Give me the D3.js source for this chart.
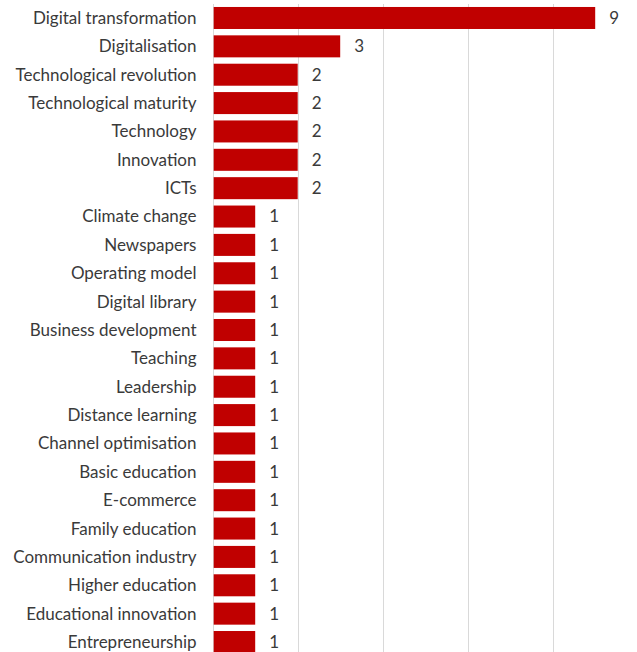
<!DOCTYPE html>
<html>
<head>
<meta charset="utf-8">
<script src="https://cdn.jsdelivr.net/npm/d3@7"></script>
<style>
  html, body { margin: 0; padding: 0; background: #fff; }
  svg { display: block; }
</style>
</head>
<body>
<svg id="chart" width="637" height="652"></svg>
<script>
// Keyword frequencies
const categories = [
  "Digital transformation", "Digitalisation", "Technological revolution",
  "Technological maturity", "Technology", "Innovation", "ICTs",
  "Climate change", "Newspapers", "Operating model", "Digital library",
  "Business development", "Teaching", "Leadership", "Distance learning",
  "Channel optimisation", "Basic education", "E-commerce", "Family education",
  "Communication industry", "Higher education", "Educational innovation",
  "Entrepreneurship"
];
const counts = [9, 3, 2, 2, 2, 2, 2, 1, 1, 1, 1, 1, 1, 1, 1, 1, 1, 1, 1, 1, 1, 1, 1];
const gridTicks = [0, 2, 4, 6, 8, 10];

const svg = d3.select("#chart");
const font = "Lato, 'Open Sans', sans-serif";
const textColor = "#3a3a3a";

const x = d3.scaleLinear().domain([0, 10]).range([212.7, 637.7]);
const y = d3.scaleBand().domain(categories).range([3.8, 656.2]).paddingInner(0.224).paddingOuter(0.112);

// vertical gridlines
svg.append("g")
  .selectAll("line")
  .data(gridTicks)
  .join("line")
  .attr("x1", d => Math.round(x(d)) + 0.5)
  .attr("x2", d => Math.round(x(d)) + 0.5)
  .attr("y1", 4)
  .attr("y2", 652)
  .attr("stroke", "#d9d9d9")
  .attr("stroke-width", 1);

// bars
svg.append("g")
  .selectAll("rect")
  .data(categories)
  .join("rect")
  .attr("x", x(0) + 1)
  .attr("y", d => y(d))
  .attr("width", (d, i) => x(counts[i]) - x(0) - 1)
  .attr("height", y.bandwidth())
  .attr("fill", "#c00000");

// category labels
svg.append("g")
  .selectAll("text")
  .data(categories)
  .join("text")
  .attr("x", 196.5)
  .attr("y", d => y(d) + y.bandwidth() / 2)
  .attr("dy", "0.35em")
  .attr("text-anchor", "end")
  .attr("font-family", font)
  .attr("font-size", 17)
  .attr("fill", textColor)
  .text(d => d);

// value labels
svg.append("g")
  .selectAll("text")
  .data(categories)
  .join("text")
  .attr("x", (d, i) => x(counts[i]) + 14)
  .attr("y", d => y(d) + y.bandwidth() / 2)
  .attr("dy", "0.35em")
  .attr("font-family", font)
  .attr("font-size", 17)
  .attr("fill", textColor)
  .text((d, i) => counts[i]);
</script>
</body>
</html>
